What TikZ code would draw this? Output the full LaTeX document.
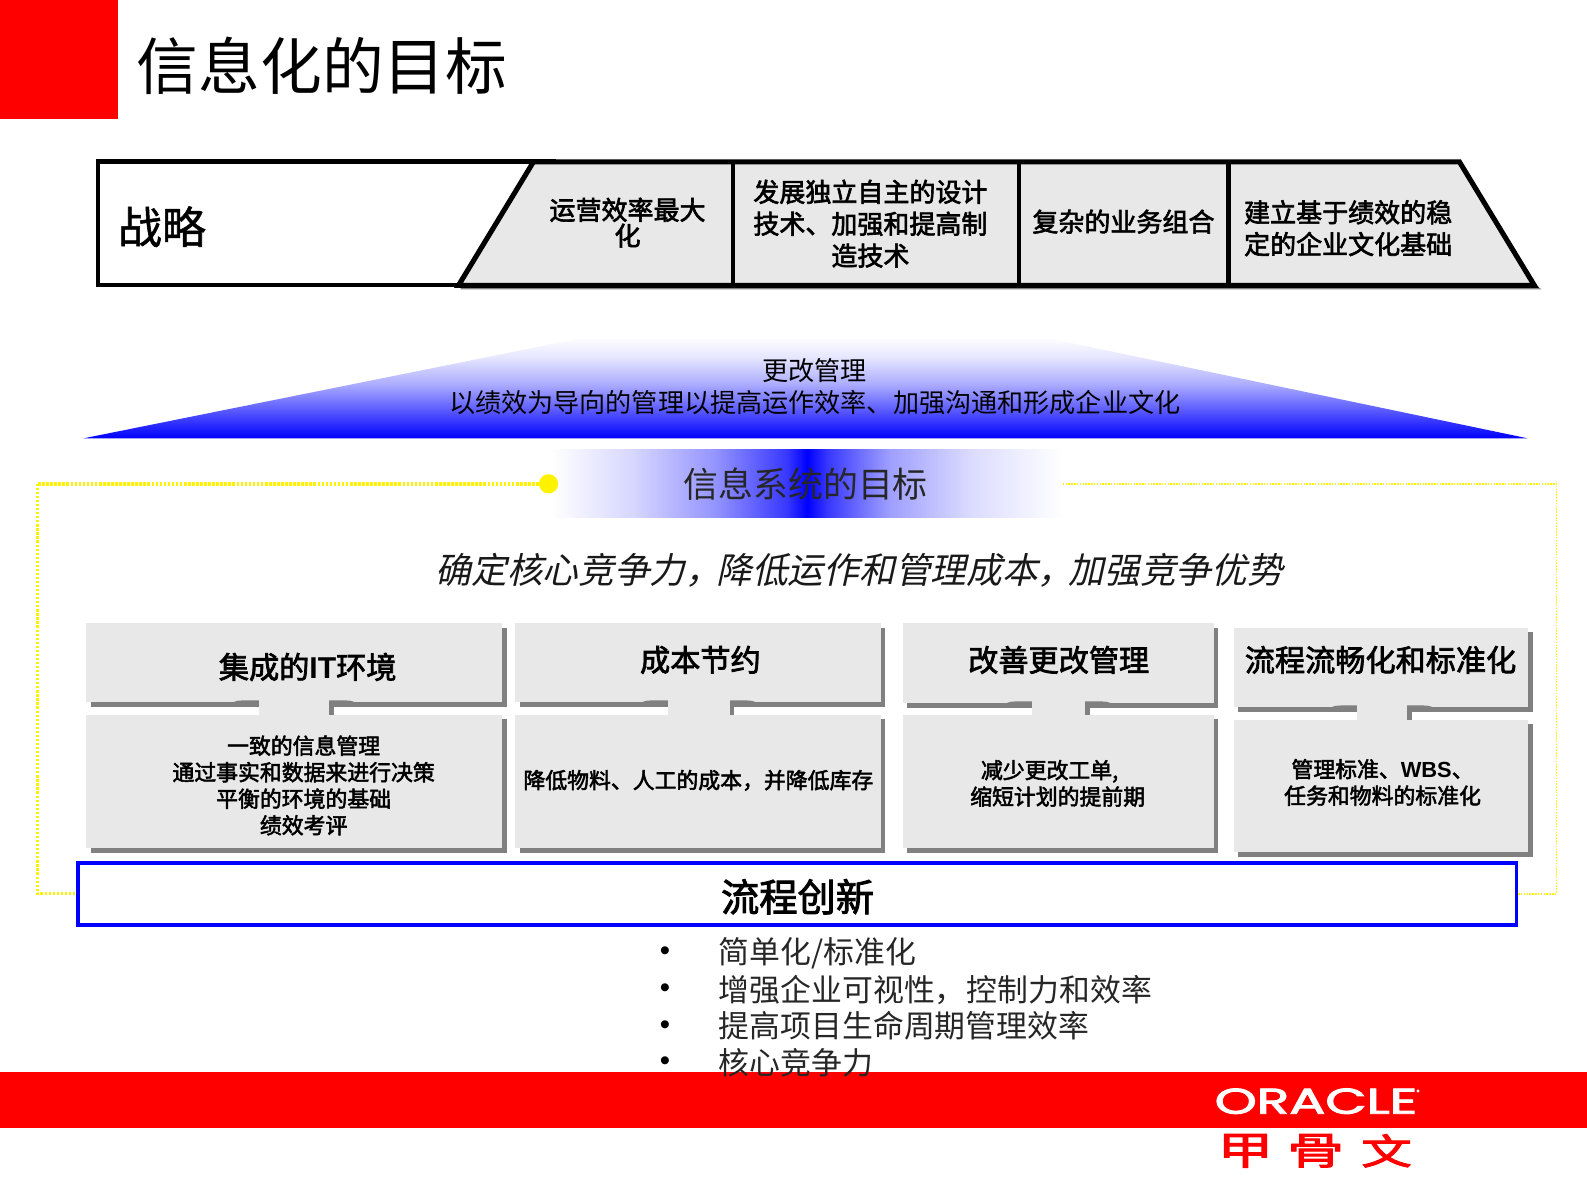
\documentclass[tikz,border=0pt]{standalone}
\usepackage{fontspec}
\setmainfont{Noto Sans CJK SC}
\newfontfamily\cjkslant[FakeSlant=0.22]{Noto Sans CJK SC}
\newfontfamily\fbcjk[FakeBold=2.4]{Noto Sans CJK SC}
\newfontfamily\fbtitle[FakeBold=1.2]{Noto Sans CJK SC}
\newfontfamily\latinbold{Liberation Sans}
\newfontfamily\logofont[FakeBold=2.5]{Poppins}
\usetikzlibrary{calc}
\definecolor{facegray}{HTML}{E8E8E8}
\definecolor{shadowgray}{HTML}{808080}
\pgfdeclareverticalshading{trapshade}{100bp}{color(0bp)=(blue); color(25bp)=(blue); color(40bp)=(blue!62); color(52bp)=(blue!32); color(65bp)=(blue!10); color(75bp)=(white); color(100bp)=(white)}
\pgfdeclarehorizontalshading{bandshade}{100bp}{color(0bp)=(white); color(25bp)=(white); color(33bp)=(blue!16); color(41bp)=(blue!42); color(48bp)=(blue!78); color(50bp)=(blue); color(52bp)=(blue!78); color(58bp)=(blue!38); color(66bp)=(blue!14); color(75bp)=(white); color(100bp)=(white)}
\newcommand{\fsz}[2]{\fontsize{#1}{#2}\selectfont}
\newcommand{\shadedbox}[9]{%
  % #1 name, #2 x0, #3 x1, #4 top y0, #5 top y1, #6 bottom y0, #7 bottom y1, #8 neck x0, #9 neck x1
  \begin{scope}[shift={(4.6,4.6)}]
    \fill[shadowgray] (#2,#4) rectangle (#3,#5);
    \fill[shadowgray] (#8,#5) rectangle (#9,#6);
    \fill[shadowgray] (#2,#6) rectangle (#3,#7);
  \end{scope}
  \fill[facegray] (#2,#4) rectangle (#3,#5);
  \fill[facegray] (#2,#6) rectangle (#3,#7);
  \fill[shadowgray] (#8-28,#5+1) .. controls (#8-22,#5-2) .. (#8-10,#5-2) -- (#8,#5-2) -- (#8,#5+1) -- cycle;
  \fill[shadowgray] (#9+28,#5+1) .. controls (#9+22,#5-2) .. (#9+10,#5-2) -- (#9,#5-2) -- (#9,#5+1) -- cycle;
  \fill[facegray] (#8,#5-3) rectangle (#9,#6+1);
}
\tikzset{
  bar title/.style={font=\fbtitle\fsz{43.5}{50}, inner sep=0pt},
  chev/.style={font=\fbcjk\fsz{25.7}{31.5}, align=center, inner sep=0pt},
  boxtitle/.style={font=\fbcjk\fsz{29.8}{35}, align=center, inner sep=0pt},
  boxtext/.style={font=\fbcjk\fsz{21.6}{26.2}, align=center, inner sep=0pt},
  bulleted/.style={font=\fsz{30.5}{36}, anchor=west, inner sep=0pt, text=black!85},
  bulletdot/.style={font=\latinbold\fsz{29}{29}, inner sep=0pt},
  jgchar/.style={text=red, inner sep=0pt, anchor=center},
}
\begin{document}
\begin{tikzpicture}[x=1pt,y=-1pt]
\useasboundingbox (0,0) rectangle (1568,1178);
\fill[white] (0,0) rectangle (1568,1178);
% header
\fill[red] (0,0) rectangle (117,117.5);
\node[font=\fsz{61}{66}, anchor=west, inner sep=0pt] (title) at (135,65) {信息化的目标};
% strategy bar
\fill[shadowgray] (455,281) -- (1517,281) -- (1523,286) -- (455,286) -- cycle;
\draw[line width=4.5pt, fill=white, line join=miter] (97,159.5) rectangle (547,281.5);
\draw[line width=5pt, fill=facegray, line join=miter] (527,160) -- (1442,160) -- (1516,282) -- (453,282) -- cycle;
\draw[line width=4.5pt] (724,160) -- (724,282);
\draw[line width=4.5pt] (1007,160) -- (1007,282);
\draw[line width=4.5pt] (1214,160) -- (1214,282);
\node[bar title] (zl) at (160,224) {战略};
\node[chev, font=\fbcjk\fsz{25.7}{25.5}] (c1) at (620,220) {运营效率最大\\化};
\node[chev] (c2) at (860,221) {发展独立自主的设计\\技术、加强和提高制\\造技术};
\node[chev] (c3) at (1110,219) {复杂的业务组合};
\node[chev] (c4) at (1332,225.5) {建立基于绩效的稳\\定的企业文化基础};
% change management trapezoid
\path[shading=trapshade] (83,433) -- (580,333) -- (1030,333) -- (1509,433) -- cycle;
\node[font=\fsz{25.8}{32}, align=center, inner sep=0pt] (cm) at (805,382) {更改管理\\以绩效为导向的管理以提高运作效率、加强沟通和形成企业文化};
% band
\path[shading=bandshade] (545,444) rectangle (1050,511);
\node[font=\fsz{34.5}{40}, inner sep=0pt, text=black!85] (band) at (796,478) {信息系统的目标};
% yellow dotted frame
\node[circle, fill=yellow, minimum size=19pt, inner sep=0pt] (dot) at (542,478) {};
\coordinate (fr1) at (37,478);
\coordinate (fr2) at (37,883);
\coordinate (frl) at (76,883);
\coordinate (fbr) at (1050,478);
\coordinate (fr3) at (1538,478);
\coordinate (fr4) at (1538,883);
\coordinate (frr) at (1498,883);
\draw[yellow, line width=3.5pt, dash pattern=on 2.6pt off 1.4pt] (dot.west) -- (fr1);
\draw[yellow, line width=2.6pt, dash pattern=on 2.2pt off 1.8pt] (fr1) -- (fr2) -- (frl);
\draw[yellow, line width=1.6pt, dash pattern=on 1.5pt off 1.3pt] (fbr) -- (fr3) -- (fr4) -- (frr);
% italic line
\node[font=\cjkslant\fsz{35.3}{40}, inner sep=0pt, text=black!90] (ital) at (849,563) {确定核心竞争力，\hspace{-5pt}降低运作和管理成本，\hspace{-5pt}加强竞争优势};
% boxes
\shadedbox{a}{85}{496}{616}{694}{706}{838}{256}{325}
\shadedbox{b}{509}{870}{616}{694}{706}{838}{660}{721}
\shadedbox{d}{892}{1199}{616}{695}{706}{838}{1020}{1072}
\shadedbox{e}{1219}{1510}{620}{699}{711}{842}{1341}{1390}
\node[boxtitle] (a1) at (304,659) {集成的{\latinbold\bfseries IT}环境};
\node[boxtitle] (b1) at (692,652) {成本节约};
\node[boxtitle] (d1) at (1046,652) {改善更改管理};
\node[boxtitle] (e1) at (1364,652) {流程流畅化和标准化};
\node[boxtext] (a2) at (300,776) {一致的信息管理\\通过事实和数据来进行决策\\平衡的环境的基础\\绩效考评};
\node[boxtext] (b2) at (690,771) {降低物料、人工的成本，并降低库存};
\node[boxtext] (d2) at (1045,774) {减少更改工单,\hspace{16pt}\null\\缩短计划的提前期};
\node[boxtext] (e2) at (1366,773) {管理标准、{\latinbold\bfseries WBS}、\\任务和物料的标准化};
% process innovation
\node[draw=blue, line width=3.4pt, fill=white, minimum width=1421pt, minimum height=61pt, inner sep=0pt, anchor=north west] (pi) at (75.5,851) {};
\node[font=\fbcjk\fsz{37.8}{42}, inner sep=0pt] (pit) at (788,886) {流程创新};
% footer band
\fill[red] (0,1059.5) rectangle (1568,1114.5);
% bullets
\foreach \yy/\nm in {942/p,979/q,1015/r,1051/s}{\node[bulletdot] (dot\nm) at (657,\yy) {•};}
\node[bulleted] (t1) at (710,941.5) {简单化/标准化};
\node[bulleted] (t2) at (710,978) {增强企业可视性，\hspace{1pt}控制力和效率};
\node[bulleted] (t3) at (710,1013.5) {提高项目生命周期管理效率};
\node[bulleted] (t4) at (710,1050.5) {核心竞争力};
% logo
\node[text=white, inner sep=0pt, anchor=west] (oracle) at (1200,1088) {\resizebox{200pt}{25pt}{\logofont ORACLE}};
\fill[white] (1401,1078) circle (1.6);
\node[jgchar] (jg1) at (1230.5,1137) {\resizebox{55pt}{30pt}{\fbcjk 甲}};
\node[jgchar] (jg2) at (1300,1137) {\resizebox{56pt}{30pt}{\fbcjk 骨}};
\node[jgchar] (jg3) at (1370,1137) {\resizebox{50pt}{30pt}{\fbcjk 文}};
\end{tikzpicture}
\end{document}
